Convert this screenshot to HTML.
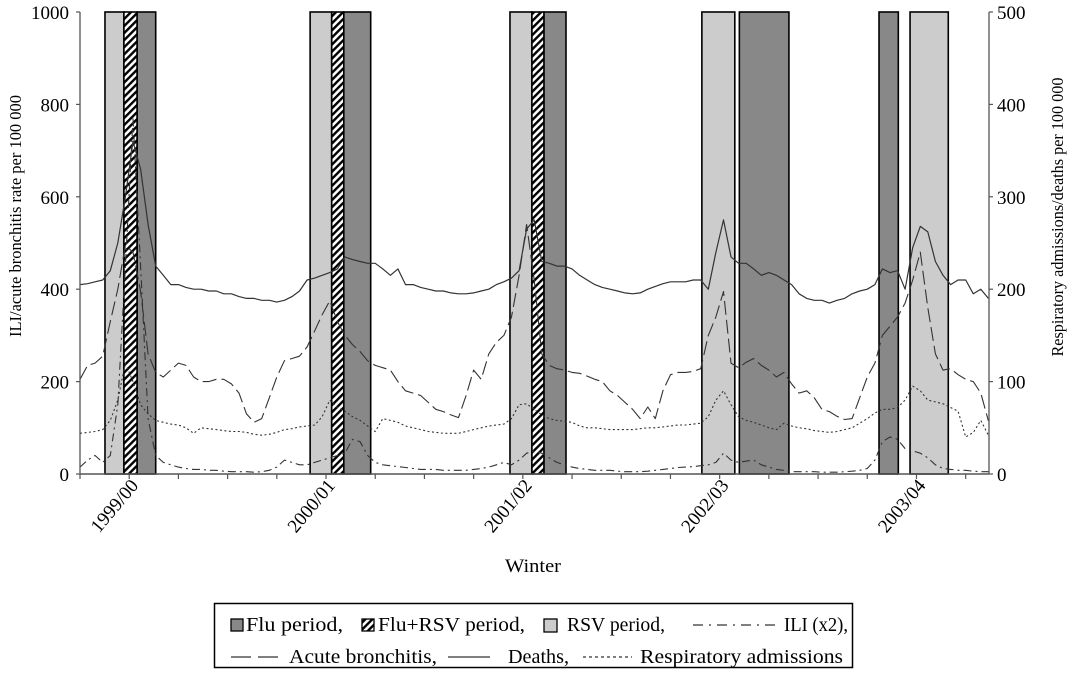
<!DOCTYPE html>
<html><head><meta charset="utf-8"><style>
html,body{margin:0;padding:0;background:#fff;}
svg{display:block;font-family:"Liberation Serif",serif;}
</style></head><body>
<svg id="chart" width="1067" height="678" viewBox="0 0 1067 678">
<defs>
<pattern id="hatch" patternUnits="userSpaceOnUse" width="5" height="5" patternTransform="rotate(45)">
<rect width="5" height="5" fill="#fff"/><rect width="2.4" height="5" fill="#000"/>
</pattern>
</defs>
<g id="bands"></g>
<g id="series"></g>
<g id="axes"></g>
<text x="533" y="572" font-size="19" text-anchor="middle" textLength="56" lengthAdjust="spacingAndGlyphs">Winter</text>
<text transform="translate(21,216) rotate(-90)" font-size="17" text-anchor="middle" textLength="242" lengthAdjust="spacingAndGlyphs">ILI/acute bronchitis rate per 100 000</text>
<text transform="translate(1063,217) rotate(-90)" font-size="17" text-anchor="middle" textLength="279" lengthAdjust="spacingAndGlyphs">Respiratory admissions/deaths per 100 000</text>
<g>
<rect x="214.5" y="603.5" width="638" height="64" fill="#fff" stroke="#000" stroke-width="1.5"/>
<g><rect x="231" y="619" width="12" height="12" fill="#888" stroke="#000" stroke-width="1.3"/><text x="246" y="631" font-size="20" textLength="97" lengthAdjust="spacingAndGlyphs">Flu period,</text></g>
<g><rect x="362" y="619" width="12" height="12" fill="url(#hatch)" stroke="#000" stroke-width="1.3"/><text x="378" y="631" font-size="20" textLength="147" lengthAdjust="spacingAndGlyphs">Flu+RSV period,</text></g>
<g><rect x="544" y="619" width="13" height="13" fill="#ccc" stroke="#000" stroke-width="1.3"/><text x="567" y="631" font-size="20" textLength="98" lengthAdjust="spacingAndGlyphs">RSV period,</text></g>
<g><line x1="693" y1="625" x2="779" y2="625" stroke="#333" stroke-width="1.2" stroke-dasharray="10,6,2,6"/><text x="784" y="631" font-size="20" textLength="64" lengthAdjust="spacingAndGlyphs">ILI (x2),</text></g>
<g><line x1="231" y1="657" x2="280" y2="657" stroke="#333" stroke-width="1.2" stroke-dasharray="20,7"/><text x="289" y="663" font-size="20" textLength="148" lengthAdjust="spacingAndGlyphs">Acute bronchitis,</text></g>
<g><line x1="448" y1="657" x2="490" y2="657" stroke="#333" stroke-width="1.2"/><text x="508" y="663" font-size="20" textLength="61" lengthAdjust="spacingAndGlyphs">Deaths,</text></g>
<g><line x1="583" y1="657" x2="632" y2="657" stroke="#333" stroke-width="1.2" stroke-dasharray="3,3"/><text x="640" y="663" font-size="20" textLength="203" lengthAdjust="spacingAndGlyphs">Respiratory admissions</text></g>
</g>
</svg>
<script>
const winterLabels=["1999/00","2000/01","2001/02","2002/03","2003/04"];
const leftTicks=[0,200,400,600,800,1000];
const rightTicks=[0,100,200,300,400,500];
const bandStart=[6.6,11.6,15.1,60.8,66.5,69.7,113.6,119.4,122.6,164.3,174.2,211.1,219.3];
const bandEnd=[11.6,15.1,20,66.5,69.7,76.8,119.4,122.6,128.4,173,187.3,216.2,229.4];
const bandType=["rsv","both","flu","rsv","both","flu","rsv","both","flu","rsv","flu","flu","rsv"];
const deaths=[205,206,208,210,220,250,300,360,330,270,
225,215,205,205,202,200,200,198,198,195,
195,192,190,190,188,188,186,188,192,198,
210,212,215,218,222,235,232,230,228,228,
222,215,222,205,205,202,200,198,198,196,
195,195,196,198,200,205,208,212,220,265,
275,230,228,225,225,222,215,210,205,202,
200,198,196,195,196,200,203,206,208,208,
208,210,210,200,240,275,235,228,228,222,
215,218,215,210,205,195,190,188,188,185,
188,190,195,198,200,205,222,218,220,200,
245,268,262,230,215,205,210,210,195,200,190];
const ili=[15,30,40,25,40,150,450,770,450,120,
40,25,20,15,12,10,10,8,8,6,
5,5,5,4,5,8,15,30,25,20,
20,25,30,35,40,45,75,70,40,25,
20,18,16,14,12,10,10,10,8,8,
8,8,10,12,15,20,25,20,30,45,
50,45,35,25,20,15,12,10,8,8,
8,6,5,5,5,6,8,10,12,14,
15,16,18,20,25,45,30,25,28,30,
20,15,10,8,5,5,5,5,4,4,
4,5,6,8,12,30,70,80,75,55,
50,45,35,20,12,10,8,8,6,5,5];
const bronchitis=[205,235,240,255,330,400,495,480,395,260,
220,210,225,240,235,210,200,200,205,205,
195,175,130,112,120,165,210,245,250,255,
275,310,345,375,330,300,280,265,245,235,
230,225,200,180,175,170,155,140,135,128,
122,170,225,205,260,285,300,340,430,540,
420,260,235,228,225,220,218,212,205,200,
180,170,155,140,120,145,120,180,215,220,
220,222,228,300,340,395,240,230,242,250,
235,225,210,220,195,175,180,165,140,135,
125,118,120,165,210,240,300,320,340,370,
420,480,360,260,225,228,215,205,200,175,115];
const admissions=[44,45,46,48,58,80,120,100,75,65,
58,56,54,53,50,44,50,49,48,47,
46,46,45,43,42,43,45,48,49,51,
52,53,62,80,72,68,62,58,52,46,
60,58,56,52,50,48,46,45,44,44,
44,46,48,50,52,53,54,60,75,76,
70,64,60,58,57,56,52,50,50,49,
48,48,48,48,49,50,50,51,52,53,
53,54,55,62,80,90,75,62,58,56,
53,50,48,55,52,50,49,47,46,45,
46,48,50,55,60,66,70,70,72,80,
95,90,80,78,76,72,68,40,45,58,42];

const NS="http://www.w3.org/2000/svg";
const X0=80,X1=989,Y0=474,Y1=12;
const PXW=3.785;
function xw(w){return X0+w*PXW;}
function yl(v){return Y0-(v/1000)*(Y0-Y1);}
function yr(v){return Y0-(v/500)*(Y0-Y1);}
function mk(tag,attrs,parent){const e=document.createElementNS(NS,tag);for(const k in attrs)e.setAttribute(k,attrs[k]);parent.appendChild(e);return e;}

const bands=document.getElementById('bands');
const fills={flu:"#888",rsv:"#ccc",both:"url(#hatch)"};
for(let i=0;i<bandStart.length;i++){
  const r=mk('rect',{x:xw(bandStart[i]),y:Y1,width:xw(bandEnd[i])-xw(bandStart[i]),height:Y0-Y1,fill:fills[bandType[i]],stroke:"#000","stroke-width":1.6},bands);
  
  
}

const ser=document.getElementById('series');
function line(vals,yf,dash,name,width){
  let d="";
  vals.forEach((v,i)=>{d+=(i?"L":"M")+xw(i*2).toFixed(1)+","+yf(v).toFixed(1);});
  const p=mk('path',{d:d,fill:"none",stroke:"#333","stroke-width":width||1.1,"stroke-dasharray":dash,"stroke-linejoin":"round"},ser);
  
  
}
line(admissions,yr,"2,2.5","line-respiratory-admissions");
line(ili,yl,"8,4,2,4","line-ili");
line(bronchitis,yl,"14,5","line-acute-bronchitis");
line(deaths,yr,"none","line-deaths",1.2);

const ax=document.getElementById('axes');
mk('line',{x1:X0,y1:Y1,x2:X0,y2:Y0,stroke:"#555","stroke-width":1.3},ax);
mk('line',{x1:X1,y1:Y1,x2:X1,y2:Y0,stroke:"#555","stroke-width":1.3},ax);
mk('line',{x1:X0,y1:Y0,x2:X1,y2:Y0,stroke:"#555","stroke-width":1.5},ax);
leftTicks.forEach(v=>{
  mk('line',{x1:X0-4,x2:X0,y1:yl(v),y2:yl(v),stroke:"#555","stroke-width":1.2},ax);
  const t=mk('text',{x:69,y:yl(v)+7,"font-size":19,"text-anchor":"end"},ax);t.textContent=v;
  
  
});
rightTicks.forEach(v=>{
  mk('line',{x1:X1,x2:X1+4,y1:yr(v),y2:yr(v),stroke:"#555","stroke-width":1.2},ax);
  const t=mk('text',{x:997,y:yr(v)+7,"font-size":19,"text-anchor":"start"},ax);t.textContent=v;
  
  
});
for(let k=0;k*13<=240;k++){
  const x=xw(k*13);
  mk('line',{x1:x,x2:x,y1:Y0,y2:Y0+5,stroke:"#555","stroke-width":1.2},ax);
}
winterLabels.forEach((s,i)=>{
  const x=xw(13+i*52);
  const t=mk('text',{transform:"translate("+(x+10)+",486) rotate(-50)","font-size":19,"text-anchor":"end"},ax);
  t.textContent=s;
  
  
});
</script>
</body></html>
